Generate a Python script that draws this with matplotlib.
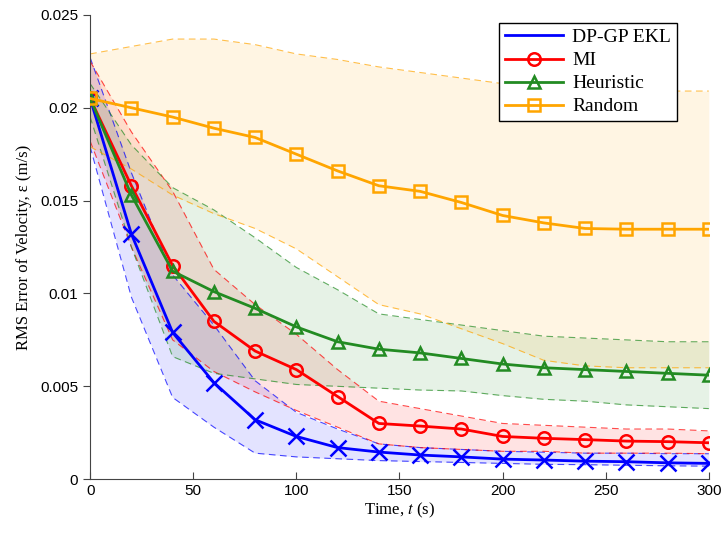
import matplotlib
matplotlib.use('Agg')
import matplotlib.pyplot as plt
import numpy as np

plt.rcParams['mathtext.fontset'] = 'stix'

# time steps (s)
t = np.arange(0, 301, 20)

# mean RMS error per method
ekl_mean = [0.0205, 0.0132, 0.0079, 0.0052, 0.0032, 0.0023, 0.0017, 0.00146, 0.0013, 0.0012,
            0.00108, 0.00103, 0.00097, 0.00094, 0.00088, 0.00085]
mi_mean = [0.0205, 0.0158, 0.0115, 0.0085, 0.0069, 0.0059, 0.00445, 0.003, 0.00286, 0.0027,
           0.0023, 0.0022, 0.00213, 0.00205, 0.00202, 0.00196]
heur_mean = [0.0205, 0.0153, 0.0112, 0.0101, 0.0092, 0.0082, 0.0074, 0.007, 0.0068, 0.0065,
             0.0062, 0.006, 0.0059, 0.0058, 0.0057, 0.0056]
rand_mean = [0.0205, 0.0200, 0.0195, 0.0189, 0.0184, 0.0175, 0.0166, 0.0158, 0.0155, 0.0149,
             0.0142, 0.0138, 0.0135, 0.01346, 0.01346, 0.01346]

# upper / lower envelopes
ekl_hi = [0.0227, 0.0165, 0.011, 0.0083, 0.0053, 0.0036, 0.0027, 0.0019, 0.0017, 0.0016,
          0.0015, 0.00145, 0.0014, 0.0014, 0.00137, 0.00137]
ekl_lo = [0.0179, 0.0098, 0.0044, 0.0028, 0.0014, 0.0012, 0.0011, 0.001, 0.00095, 0.0009,
          0.00085, 0.0008, 0.00078, 0.00075, 0.00072, 0.0007]
mi_hi = [0.0225, 0.0187, 0.0155, 0.0113, 0.0094, 0.0078, 0.0059, 0.0042, 0.0038, 0.0034,
         0.003, 0.0029, 0.0028, 0.0027, 0.0027, 0.0026]
mi_lo = [0.0182, 0.0125, 0.0075, 0.0058, 0.0047, 0.0037, 0.0028, 0.0019, 0.0017, 0.0016,
         0.0015, 0.0015, 0.0014, 0.0014, 0.0014, 0.00137]
heur_hi = [0.0213, 0.018, 0.0157, 0.0145, 0.013, 0.0114, 0.0102, 0.0089, 0.0086, 0.0083,
           0.008, 0.0077, 0.0076, 0.0075, 0.0074, 0.0074]
heur_lo = [0.0195, 0.0125, 0.0066, 0.0057, 0.0054, 0.0051, 0.005, 0.0049, 0.0048, 0.00475,
           0.0045, 0.0043, 0.0042, 0.004, 0.0039, 0.0038]
rand_hi = [0.0229, 0.0233, 0.0237, 0.0237, 0.0234, 0.0229, 0.0226, 0.0222, 0.0219, 0.0216,
           0.0213, 0.021, 0.0209, 0.0209, 0.0209, 0.0209]
rand_lo = [0.0179, 0.0167, 0.0153, 0.0143, 0.0135, 0.0124, 0.0109, 0.0094, 0.0089, 0.0081,
           0.0073, 0.0064, 0.0061, 0.006, 0.006, 0.006]

serif = ['Liberation Serif', 'DejaVu Serif']
sans = ['Liberation Sans', 'DejaVu Sans']

fig = plt.figure(figsize=(7.27, 5.33), dpi=100)
ax = fig.add_axes([0.124, 0.101, 0.851, 0.871])

series = [
    ('DP-GP EKL', ekl_mean, ekl_lo, ekl_hi, 'blue', 'x'),
    ('MI', mi_mean, mi_lo, mi_hi, 'red', 'o'),
    ('Heuristic', heur_mean, heur_lo, heur_hi, 'forestgreen', '^'),
    ('Random', rand_mean, rand_lo, rand_hi, 'orange', 's'),
]

for name, m, lo, hi, c, mk in series:
    ax.fill_between(t, lo, hi, color=c, alpha=0.11, linewidth=0, zorder=1)
    ax.plot(t, lo, color=c, lw=0.8, alpha=0.7, dashes=(6, 4), zorder=2)
    ax.plot(t, hi, color=c, lw=0.8, alpha=0.7, dashes=(6, 4), zorder=2)

handles = []
for name, m, lo, hi, c, mk in series:
    if mk == 'x':
        ax.plot(t, m, color=c, lw=2, marker='x', ms=11, mew=1.8, zorder=5)
        h, = ax.plot([], [], color=c, lw=2, label=name)
    else:
        h, = ax.plot(t, m, color=c, lw=2, marker=mk, ms=9, mew=1.8, mfc='none',
                     label=name, zorder=5)
    handles.append(h)

ax.set_xlim(0, 300)
ax.set_ylim(0, 0.025)
ax.set_xticks([0, 50, 100, 150, 200, 250, 300])
ax.set_yticks([0, 0.005, 0.01, 0.015, 0.02, 0.025])
ax.set_yticklabels(['0', '0.005', '0.01', '0.015', '0.02', '0.025'])
ax.spines['top'].set_visible(False)
ax.spines['right'].set_visible(False)
ax.spines['left'].set_color('#444444')
ax.spines['bottom'].set_color('#444444')
ax.tick_params(axis='x', direction='in', length=5, color='#444444')
ax.tick_params(axis='y', direction='out', length=5, color='#444444')
for lab in ax.get_xticklabels() + ax.get_yticklabels():
    lab.set_family(sans)
    lab.set_fontsize(11)

ax.set_xlabel('Time, $t$ (s)', family=serif, fontsize=12, labelpad=2)
ax.set_ylabel('RMS Error of Velocity, ε (m/s)', family=serif, fontsize=12, labelpad=6)

leg = ax.legend(handles=handles, loc='upper right', bbox_to_anchor=(0.948, 0.983),
                prop={'family': serif, 'size': 14}, fancybox=False, framealpha=1,
                edgecolor='black', borderpad=0.3, labelspacing=0.28, handlelength=3.0,
                handletextpad=0.45, borderaxespad=0)
leg.get_frame().set_linewidth(1.0)

fig.savefig('out.png', dpi=100)
